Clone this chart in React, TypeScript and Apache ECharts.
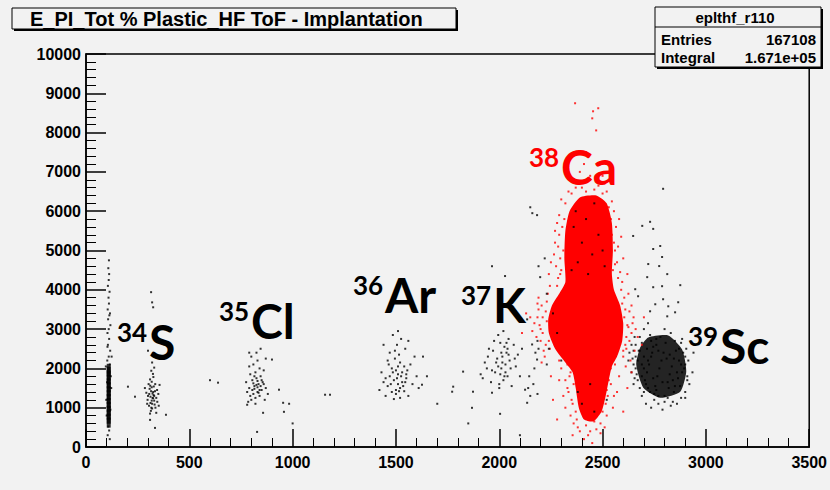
import React, { useEffect, useRef } from "react";
import * as echarts from "echarts";

// ---- axis / text data ----
const titleText = "E_PI_Tot % Plastic_HF ToF - Implantation";
const statsName = "eplthf_r110";
const statsEntries = "167108";
const statsIntegral = "1.671e+05";
const xRange = [0, 3500];
const yRange = [0, 10000];

// ---- point data (x = Plastic_HF ToF, y = E_Pl_Tot) ----
const beamLineDense: number[][] = [
  [110, 620], [110, 720], [110, 820], [110, 920], [110, 1020], [110, 1120], [110, 1220],
  [110, 1320], [110, 1420], [110, 1520], [110, 1620], [110, 1720], [110, 1820], [110, 1920],
  [110, 1990],
];
const beamLineSparse: number[][] = [
  [105, 300], [112, 420], [108, 520], [115, 2100], [103, 2200], [110, 2300], [117, 2450],
  [106, 2600], [112, 2750], [104, 2900], [110, 3000], [118, 3100], [107, 3250], [113, 3350],
  [105, 3500], [111, 3650], [109, 3800], [114, 3950], [106, 4100], [110, 4250], [112, 4400],
  [108, 4550], [111, 4750], [98, 1200], [122, 1500], [100, 800], [120, 1800], [96, 2050],
  [124, 2300], [115, 200], [102, 1650], [118, 950], [104, 2550], [116, 3400],
];
const s34Points: number[][] = [
  [305, 1050], [312, 1120], [318, 1180], [325, 1240], [330, 1300], [322, 1360], [315, 1420],
  [308, 1480], [328, 1540], [335, 1600], [318, 1660], [310, 1720], [326, 1780], [340, 1250],
  [300, 1300], [345, 1150], [298, 1200], [332, 1080], [320, 980], [314, 920], [336, 1000],
  [303, 1600], [344, 1450], [292, 1380], [350, 1350], [324, 1860], [316, 1940], [330, 2020],
  [310, 850], [340, 870], [296, 1100], [352, 1050], [285, 1500], [356, 1580], [320, 1100],
  [325, 1400], [312, 1280], [330, 1180], [318, 1520], [322, 1250], [306, 1350], [334, 1420],
  [315, 3940], [320, 3680], [325, 3555], [203, 1535], [237, 1280], [387, 820], [334, 486],
  [310, 690], [320, 2150], [328, 2300], [300, 2450], [316, 1000], [327, 1320], [311, 1560],
];
const cl35Points: number[][] = [
  [800, 1200], [820, 1250], [840, 1300], [810, 1350], [830, 1400], [850, 1450], [790, 1500],
  [815, 1550], [835, 1600], [855, 1650], [805, 1700], [825, 1750], [845, 1800], [795, 1850],
  [820, 1900], [840, 2000], [810, 2100], [830, 2200], [800, 2300], [825, 2400], [845, 2500],
  [780, 1400], [870, 1500], [775, 1650], [880, 1350], [860, 1950], [790, 2050], [865, 1200],
  [785, 1150], [820, 1100], [840, 1450], [815, 1480], [830, 1520], [825, 1580], [845, 1550],
  [835, 1380], [810, 1620], [850, 1700], [805, 1450], [860, 1600], [795, 1300], [830, 1680],
  [815, 1800], [870, 2250], [790, 2400], [639, 1637], [828, 384], [857, 870], [900, 2225],
  [934, 1458], [954, 1125], [958, 895], [983, 1100], [1157, 1330], [1181, 1330], [780, 1075],
  [600, 1700], [1000, 600],
];
const ar36Points: number[][] = [
  [1480, 1400], [1500, 1450], [1520, 1500], [1540, 1420], [1460, 1550], [1510, 1600],
  [1530, 1650], [1490, 1700], [1550, 1750], [1470, 1800], [1510, 1850], [1530, 1900],
  [1500, 1950], [1480, 2000], [1540, 2050], [1520, 2150], [1495, 2250], [1515, 2350],
  [1470, 2400], [1545, 2500], [1505, 2600], [1525, 2750], [1485, 2850], [1510, 2950],
  [1440, 1650], [1580, 1600], [1600, 1800], [1430, 1900], [1450, 1300], [1560, 1300],
  [1520, 1250], [1490, 1220], [1420, 1450], [1610, 1500], [1570, 2100], [1460, 2200],
  [1590, 2300], [1440, 2600], [1560, 2700], [1500, 1350], [1535, 1550], [1475, 1600],
  [1555, 1950], [1465, 2100], [1505, 1750], [1525, 1800], [1485, 1900], [1515, 1420],
  [1545, 1650], [1495, 2450], [1631, 2300], [1626, 1585], [1550, 1850], [1450, 1750],
  [1510, 2050],
];
const k37Points: number[][] = [
  [2000, 1600], [2020, 1700], [2040, 1800], [1980, 1900], [2010, 2000], [2030, 2100],
  [2050, 2200], [1990, 2250], [2015, 2300], [2035, 2400], [1970, 2450], [2025, 2550],
  [2005, 2650], [2045, 2750], [1995, 2850], [2020, 2950], [1940, 2000], [2080, 2050],
  [1920, 1750], [2090, 2350], [1950, 2500], [2070, 2600], [1960, 1650], [2060, 1550],
  [2000, 1500], [2030, 1900], [1985, 2150], [2055, 2000], [1945, 2300], [2100, 1800],
  [2010, 2400], [1975, 2700], [2040, 2500], [1930, 2150], [2075, 2250], [2025, 1800],
  [1995, 2050], [2015, 2150], [2005, 1850], [2045, 2350], [1965, 1950], [2035, 2650],
  [1910, 1850], [2110, 2500], [1965, 4600], [2028, 4350], [1825, 1918], [1772, 1407],
  [1873, 1407], [1965, 1381], [1868, 997], [2004, 844], [1777, 1535], [2135, 3248],
  [2159, 2609], [2183, 2225], [2125, 1458], [2135, 1125], [2198, 4322], [2150, 6100],
  [2183, 5900], [2160, 5950], [1700, 1100], [1650, 1800], [1850, 600], [2100, 300],
  [2170, 2000], [2190, 2500], [2165, 1600], [2145, 1800], [2185, 1350],
];
const ca38Core: number[][] = [
  [2390, 6350], [2470, 6400], [2520, 6200], [2545, 5700], [2550, 5000], [2545, 4400],
  [2555, 4000], [2585, 3600], [2600, 3150], [2595, 2700], [2570, 2300], [2545, 2050],
  [2530, 1700], [2515, 1300], [2495, 900], [2455, 650], [2410, 700], [2385, 1000],
  [2370, 1500], [2355, 1900], [2320, 2150], [2270, 2500], [2240, 2900], [2237, 3250],
  [2255, 3600], [2290, 3900], [2320, 4200], [2315, 4800], [2320, 5500], [2340, 6000],
];
const ca38Points: number[][] = [
  [2200, 3000], [2180, 2800], [2210, 3300], [2190, 3500], [2225, 2600], [2170, 3150],
  [2230, 3700], [2215, 2450], [2160, 2950], [2235, 3900], [2200, 2700], [2245, 4100],
  [2190, 3800], [2150, 3300], [2220, 2300], [2620, 3100], [2640, 2900], [2610, 3500],
  [2650, 3300], [2630, 2700], [2605, 3800], [2660, 3000], [2615, 2500], [2640, 3600],
  [2600, 2300], [2670, 2800], [2625, 3900], [2300, 4500], [2310, 5000], [2290, 5400],
  [2315, 5800], [2320, 6200], [2295, 4800], [2305, 5600], [2550, 4500], [2560, 5000],
  [2545, 5400], [2540, 5800], [2530, 6100], [2570, 4700], [2555, 5200], [2335, 6500],
  [2400, 6600], [2460, 6550], [2500, 6450], [2380, 6700], [2430, 6800], [2285, 4300],
  [2575, 4300], [2590, 4000], [2280, 4100], [2340, 1800], [2330, 1500], [2350, 1200],
  [2320, 1000], [2345, 800], [2360, 600], [2530, 1900], [2540, 1600], [2525, 1300],
  [2550, 1000], [2520, 800], [2510, 500], [2300, 2000], [2560, 2100], [2310, 1300],
  [2570, 1400], [2390, 400], [2430, 300], [2470, 450], [2410, 200], [2450, 100],
  [2290, 1700], [2580, 1800], [2355, 300], [2490, 350], [2367, 8747], [2450, 8363],
  [2479, 8620], [2469, 8056], [2454, 8542], [2420, 7500], [2480, 7200], [2390, 7000],
  [2500, 6900], [2250, 4700], [2270, 5200], [2600, 4800], [2620, 4400], [2130, 3400],
  [2700, 3300], [2690, 2600], [2110, 2900], [2250, 1800], [2260, 1200], [2620, 1500],
  [2640, 1900], [2600, 900], [2280, 700], [2635, 2200], [2655, 2450], [2612, 2050],
  [2205, 2150], [2185, 3650], [2240, 4400], [2595, 4200], [2320, 2300], [2290, 2200],
  [2275, 4600], [2285, 5100], [2270, 5500], [2290, 5900], [2300, 6300], [2265, 4900],
  [2280, 5700], [2295, 4400], [2560, 4650], [2575, 5100], [2565, 5600], [2555, 6000],
  [2585, 4450], [2590, 5350], [2545, 6250], [2580, 5800], [2350, 6450], [2370, 6600],
  [2420, 6500], [2480, 6650], [2520, 6500], [2440, 6900], [2410, 7200], [2360, 6800],
  [2195, 3100], [2210, 2900], [2225, 3450], [2205, 3600], [2240, 2700], [2245, 2500],
  [2185, 3300], [2230, 3200], [2605, 3300], [2615, 2800], [2625, 3050], [2610, 2600],
  [2595, 3650], [2645, 3150], [2630, 3450], [2600, 2450], [2330, 2100], [2345, 1900],
  [2360, 1600], [2335, 1400], [2355, 1100], [2370, 900], [2375, 700], [2540, 2000],
  [2530, 1700], [2520, 1450], [2515, 1100], [2500, 900], [2490, 600], [2420, 550],
  [2440, 400], [2460, 650], [2380, 500], [2320, 1700], [2555, 1300],
];
const caBlackPoints: number[][] = [
  [2360, 5600], [2420, 5800], [2480, 5400], [2400, 5200], [2450, 4900], [2380, 4700],
  [2500, 5000], [2430, 4400], [2370, 6000], [2460, 6200], [2350, 4500], [2510, 4600],
  [2280, 2900], [2260, 3400], [2240, 2500], [2300, 2200], [2230, 2100], [2440, 1600],
  [2400, 1100], [2460, 900], [2380, 1400], [2520, 1200], [2230, 3900], [2190, 4600],
  [2220, 4800], [2175, 2400], [2185, 2700], [2140, 1500], [2150, 1300],
];
const sc39Core: number[][] = [
  [2721, 2788], [2818, 2839], [2885, 2481], [2905, 1918], [2876, 1407], [2779, 1253],
  [2697, 1509], [2663, 2097], [2682, 2532],
];
const sc39Points: number[][] = [
  [2700, 2000], [2720, 2200], [2740, 2400], [2760, 2600], [2780, 2800], [2800, 3000],
  [2690, 1800], [2710, 1600], [2730, 1400], [2750, 1200], [2770, 1100], [2800, 1300],
  [2820, 1500], [2840, 1700], [2860, 1900], [2880, 2100], [2900, 2300], [2870, 2500],
  [2850, 2700], [2830, 2900], [2660, 2300], [2650, 2100], [2640, 1900], [2670, 1700],
  [2680, 1500], [2660, 2600], [2680, 2800], [2700, 3000], [2720, 3150], [2910, 1800],
  [2920, 1600], [2900, 1400], [2880, 1250], [2860, 1100], [2640, 2600], [2630, 2400],
  [2625, 2200], [2655, 2800], [2690, 1300], [2710, 1100], [2735, 1000], [2790, 950],
  [2830, 1050], [2895, 2000], [2915, 2200], [2905, 2500], [2885, 2750], [2650, 1600],
  [2760, 1450], [2790, 1650], [2810, 2250], [2770, 2450], [2745, 1750], [2825, 2350],
  [2715, 2500], [2850, 1550], [2735, 2700], [2935, 1900], [2940, 2400],
  [2660, 2000], [2670, 2200], [2675, 2450], [2690, 2650], [2700, 2300], [2705, 1700],
  [2715, 1900], [2725, 2100], [2735, 2300], [2745, 2550], [2755, 1550], [2765, 1800],
  [2775, 2000], [2785, 2200], [2795, 2400], [2805, 2650], [2815, 1650], [2825, 1850],
  [2835, 2050], [2845, 2250], [2855, 2450], [2865, 1750], [2875, 1550], [2885, 1900],
  [2890, 2400], [2870, 2200], [2845, 1400], [2815, 1250], [2770, 1300], [2720, 1500],
  [2690, 2100], [2680, 2450], [2665, 1850], [2900, 2100], [2910, 1700], [2880, 2650],
  [2760, 2750], [2730, 2850], [2650, 2450], [2645, 2250], [2655, 1750], [2700, 1400],
  [2750, 1350], [2800, 1150], [2840, 1150], [2900, 1250],
  [2793, 6570], [2692, 5627], [2730, 5730], [2745, 5550], [2648, 5370], [2779, 5115],
  [2745, 5038], [2788, 4834], [2774, 4604], [2721, 4655], [2716, 4322], [2813, 4399],
  [2788, 4092], [2876, 4118], [2745, 4066], [2658, 4015], [2672, 3836], [2793, 3760],
  [2755, 3632], [2818, 3580], [2866, 3683], [2730, 3453], [2851, 3427], [2813, 3325],
];

// ---- nuclide labels ----
const nuclides = [
  { mass: "34", sym: "S", color: "#000000", supX: 117, y: 341 },
  { mass: "35", sym: "Cl", color: "#000000", supX: 219, y: 320 },
  { mass: "36", sym: "Ar", color: "#000000", supX: 353, y: 294 },
  { mass: "37", sym: "K", color: "#000000", supX: 461, y: 304 },
  { mass: "38", sym: "Ca", color: "#ff0000", supX: 529, y: 166 },
  { mass: "39", sym: "Sc", color: "#000000", supX: 688, y: 345 },
];

const BG = "#f2f2f2";

function polySeries(pts: number[][], color: string, opacity = 1) {
  return {
    type: "custom",
    silent: true,
    z: 1,
    data: pts,
    encode: { x: 0, y: 1 },
    renderItem: (params: any, api: any) => {
      if (params.dataIndex !== 0) return null;
      return {
        type: "polygon",
        shape: { points: pts.map((p) => api.coord(p)), smooth: 0.2 },
        style: { fill: color, opacity },
      };
    },
  };
}

function scatter(data: number[][], color: string, size: any = 2, z = 3) {
  return {
    type: "scatter",
    silent: true,
    symbol: "rect",
    symbolSize: size,
    data,
    z,
    itemStyle: { color },
  };
}

export default function App() {
  const ref = useRef<HTMLDivElement>(null);
  useEffect(() => {
    if (!ref.current) return;
    const chart = echarts.init(ref.current, null, { renderer: "svg" });
    const axisFont = {
      fontFamily: "Liberation Sans, Arial", fontWeight: "bold", fontSize: 16, color: "#000",
      formatter: (v: number) => String(v),
    };
    const font = "Liberation Sans, Arial";
    const graphics: any[] = [
      // title box
      { type: "rect", shape: { x: 14, y: 10, width: 444, height: 21 }, style: { fill: "#000" }, z: 10 },
      { type: "rect", shape: { x: 12, y: 8, width: 444, height: 21 }, style: { fill: BG, stroke: "#000", lineWidth: 1 }, z: 11 },
      {
        type: "text", x: 30, y: 19, z: 12,
        style: { text: titleText, fontFamily: font, fontWeight: "bold", fontSize: 20, fill: "#000", verticalAlign: "middle" },
      },
      // stats box
      { type: "rect", shape: { x: 657, y: 9, width: 166, height: 60 }, style: { fill: "#000" }, z: 10 },
      { type: "rect", shape: { x: 655, y: 7, width: 166, height: 60 }, style: { fill: BG, stroke: "#000", lineWidth: 1 }, z: 11 },
      { type: "line", shape: { x1: 655, y1: 27, x2: 821, y2: 27 }, style: { stroke: "#000", lineWidth: 1 }, z: 12 },
      {
        type: "text", x: 735, y: 17, z: 12,
        style: { text: statsName, fontFamily: font, fontWeight: "bold", fontSize: 15, fill: "#000", align: "center", verticalAlign: "middle" },
      },
      {
        type: "text", x: 661, y: 39, z: 12,
        style: { text: "Entries", fontFamily: font, fontWeight: "bold", fontSize: 15, fill: "#000", verticalAlign: "middle" },
      },
      {
        type: "text", x: 816, y: 39, z: 12,
        style: { text: statsEntries, fontFamily: font, fontWeight: "bold", fontSize: 15, fill: "#000", align: "right", verticalAlign: "middle" },
      },
      {
        type: "text", x: 661, y: 57, z: 12,
        style: { text: "Integral", fontFamily: font, fontWeight: "bold", fontSize: 15, fill: "#000", verticalAlign: "middle" },
      },
      {
        type: "text", x: 816, y: 57, z: 12,
        style: { text: statsIntegral, fontFamily: font, fontWeight: "bold", fontSize: 15, fill: "#000", align: "right", verticalAlign: "middle" },
      },
    ];
    nuclides.forEach((n) => {
      graphics.push({
        type: "text", x: n.supX, y: n.y - 9, z: 12,
        style: { text: n.mass, fontFamily: "Lato", fontWeight: "bold", fontSize: 26, fill: n.color, verticalAlign: "middle" },
      });
      graphics.push({
        type: "text", x: n.supX + 32, y: n.y, z: 12,
        style: { text: n.sym, fontFamily: "Lato", fontWeight: "bold", fontSize: 48, fill: n.color, verticalAlign: "middle" },
      });
    });

    chart.setOption({
      animation: false,
      backgroundColor: BG,
      grid: {
        left: 86, top: 54, right: 20, bottom: 43,
        show: true, borderColor: "#000", borderWidth: 1.5, backgroundColor: BG,
      },
      xAxis: {
        type: "value", min: xRange[0], max: xRange[1], interval: 500,
        axisLine: { lineStyle: { color: "#000", width: 1.5 } },
        axisTick: { inside: true, length: 18, lineStyle: { color: "#000", width: 1.5 } },
        minorTick: { show: true, splitNumber: 5, length: 9, lineStyle: { color: "#000", width: 1 } },
        splitLine: { show: false },
        axisLabel: { ...axisFont, margin: 7 },
      },
      yAxis: {
        type: "value", min: yRange[0], max: yRange[1], interval: 1000,
        axisLine: { lineStyle: { color: "#000", width: 1.5 } },
        axisTick: { inside: true, length: 20, lineStyle: { color: "#000", width: 1.5 } },
        minorTick: { show: true, splitNumber: 5, length: 10, lineStyle: { color: "#000", width: 1 } },
        splitLine: { show: false },
        axisLabel: { ...axisFont, margin: 5 },
      },
      series: [
        polySeries(ca38Core, "#ff0000"),
        polySeries(sc39Core, "#000000", 0.85),
        scatter(beamLineDense, "#000", [4, 10]),
        scatter(beamLineSparse, "#000"),
        scatter(s34Points, "#000"),
        scatter(cl35Points, "#000"),
        scatter(ar36Points, "#000"),
        scatter(k37Points, "#000"),
        scatter(sc39Points, "#000"),
        scatter(ca38Points, "#ff0000"),
        scatter(caBlackPoints, "#000", 2, 4),
      ],
      graphic: graphics,
    });
    return () => chart.dispose();
  }, []);
  return (
    <div
      ref={ref}
      style={{ position: "fixed", left: 0, top: 0, width: 830, height: 490, background: BG }}
    />
  );
}
